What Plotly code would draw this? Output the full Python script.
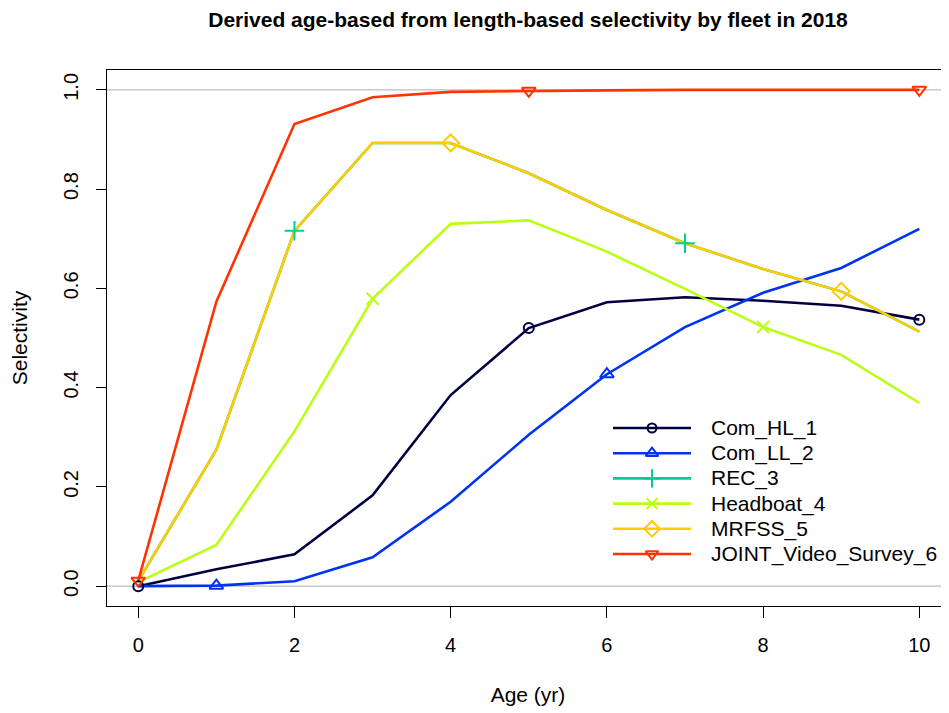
import plotly.graph_objects as go

# Ages and derived age-based selectivity per fleet
ages = [0, 1, 2, 3, 4, 5, 6, 7, 8, 9, 10]

com_hl_1 = [0.000, 0.034, 0.064, 0.183, 0.385, 0.520, 0.572, 0.582, 0.575, 0.565, 0.537]
com_ll_2 = [0.000, 0.001, 0.010, 0.058, 0.170, 0.305, 0.427, 0.522, 0.591, 0.641, 0.720]
rec_3 = [0.010, 0.275, 0.716, 0.893, 0.893, 0.832, 0.758, 0.691, 0.639, 0.594, 0.513]
headboat_4 = [0.008, 0.083, 0.312, 0.579, 0.730, 0.737, 0.674, 0.599, 0.522, 0.466, 0.369]
mrfss_5 = [0.010, 0.275, 0.716, 0.893, 0.893, 0.832, 0.758, 0.691, 0.639, 0.594, 0.513]
joint_video_6 = [0.011, 0.573, 0.931, 0.985, 0.996, 0.998, 0.999, 1.000, 1.000, 1.000, 1.000]

fleet_names = ["Com_HL_1", "Com_LL_2", "REC_3", "Headboat_4", "MRFSS_5", "JOINT_Video_Survey_6"]
fleet_values = [com_hl_1, com_ll_2, rec_3, headboat_4, mrfss_5, joint_video_6]

# rich.colors.short(6) style palette
colors = ["#000040", "#0033F1", "#01CC9B", "#BAFF11", "#FFCC00", "#FF3300"]
symbols = ["circle-open", "triangle-up-open", "cross-thin-open", "x-thin-open",
           "diamond-open", "triangle-down-open"]
sizes = [10, 12, 14, 12, 13, 12]
marker_offsets = [0, 1, 2, 3, 4, 0]   # points drawn every 5th age
ref_lines = [0, 1]

FONT = "Liberation Sans, Arial, sans-serif"
PAGE_PAD = 8  # browser body margin around the figure

fig = go.Figure()

# lines first
for name, vals, col in zip(fleet_names, fleet_values, colors):
    fig.add_trace(go.Scatter(x=ages, y=vals, mode="lines", name=name,
                             line=dict(color=col, width=2.6), showlegend=False))

# then points on top
for name, vals, col, sym, sz, off in zip(fleet_names, fleet_values, colors, symbols, sizes, marker_offsets):
    fig.add_trace(go.Scatter(x=ages[off::5], y=vals[off::5], mode="markers", name=name,
                             marker=dict(symbol=sym, size=sz, color=col,
                                         line=dict(color=col, width=2)),
                             showlegend=False))

# custom legend on a pixel-scaled overlay axis (long R-style legend lines)
leg_x0, leg_x1, leg_xm, leg_tx = 613, 691, 652, 709
leg_y0, leg_dy = 428, 25.2
for i, (name, col, sym, sz) in enumerate(zip(fleet_names, colors, symbols, sizes)):
    yy = leg_y0 + i * leg_dy
    fig.add_trace(go.Scatter(x=[leg_x0, leg_x1], y=[yy, yy], mode="lines",
                             line=dict(color=col, width=2.6), xaxis="x2", yaxis="y2",
                             showlegend=False, hoverinfo="skip"))
    fig.add_trace(go.Scatter(x=[leg_xm], y=[yy], mode="markers",
                             marker=dict(symbol=sym, size=sz - 1, color=col,
                                         line=dict(color=col, width=2)),
                             xaxis="x2", yaxis="y2", showlegend=False, hoverinfo="skip"))
    fig.add_annotation(x=leg_tx, y=yy, xref="x2", yref="y2", text=name,
                       showarrow=False, xanchor="left", yanchor="middle",
                       font=dict(family=FONT, size=21, color="black"))

for yv in ref_lines:
    fig.add_hline(y=yv, line_color="#BEBEBE", line_width=1.2, layer="below")

fig.update_layout(
    width=949 - PAGE_PAD, height=713 - PAGE_PAD,
    margin=dict(l=107 - PAGE_PAD, r=0, t=70 - PAGE_PAD, b=107),
    paper_bgcolor="white", plot_bgcolor="white",
    font=dict(family=FONT, color="black"),
    title=dict(text="<b>Derived age-based from length-based selectivity by fleet in 2018</b>",
               x=0.5, xref="paper", y=1 - (20 - PAGE_PAD) / (713 - PAGE_PAD), yref="container",
               xanchor="center", yanchor="middle",
               font=dict(family=FONT, size=21, color="black")),
    xaxis=dict(range=[-0.4, 10.38], tickvals=[0, 2, 4, 6, 8, 10],
               showgrid=False, zeroline=False, showline=True, mirror=True,
               linecolor="black", linewidth=1.2, ticks="outside", ticklen=11,
               tickcolor="black", tickwidth=1.2, ticklabelstandoff=10,
               tickfont=dict(size=20),
               title=dict(text="Age (yr)", font=dict(size=21), standoff=32)),
    yaxis=dict(range=[-0.04, 1.04], tickvals=[0, 0.2, 0.4, 0.6, 0.8, 1.0],
               tickformat=".1f", tickangle=-90,
               showgrid=False, zeroline=False, showline=True, mirror=True,
               linecolor="black", linewidth=1.2, ticks="outside", ticklen=10,
               tickcolor="black", tickwidth=1.2, ticklabelstandoff=10,
               tickfont=dict(size=20),
               title=dict(text="Selectivity", font=dict(size=21), standoff=26)),
    xaxis2=dict(range=[107, 949], overlaying="x", visible=False, fixedrange=True),
    yaxis2=dict(range=[606, 70], overlaying="y", visible=False, fixedrange=True),
    showlegend=False,
)

fig.write_html("out.html")
